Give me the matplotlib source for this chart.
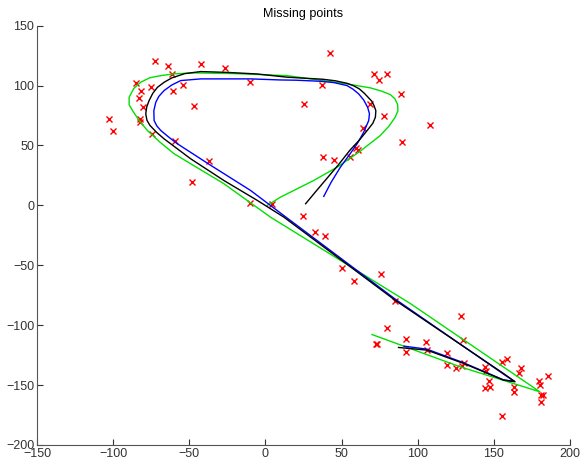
import matplotlib
matplotlib.use("Agg")
import matplotlib.pyplot as plt

plt.rcParams["font.family"] = ["Liberation Sans", "DejaVu Sans"]

# observed (noisy) points
pts_x = [-72.7, -64, -42.3, -26.6, -61.5, -84.9, -75.3, -53.9, -81.9, -60.4, -10.2, -83.2,
         -46.9, -80.3, -102.6, -82.5, -82.3, -100.2, -74.6, -59.4, -36.8, -48.4, -10, 4.4,
         42.2, 71.5, 79.8, 74.8, 37, 88.7, 25.6, 68.9, 78, 108, 64.1, 89.8, 59.7, 61,
         38.1, 45.1, 55.3, 24.8, 32.8, 38.9, 50.1, 58.2, 75.6, 85.1, 79.8,
         128.3, 72.3, 73, 92.3, 105.4, 129.6, 92.3, 105.8, 119.5, 130.3, 129, 119.3, 125,
         144.4, 144.9, 155.6, 158.9, 168, 166.5, 147, 147.5, 144.4, 163, 163.2, 179.4,
         180.2, 185.7, 180.9, 182.4, 181.1, 155.6]
pts_y = [120.6, 116.7, 117.8, 115, 109.7, 101.9, 98.6, 100.8, 95.3, 95.8, 103.1, 89.7,
         83.3, 81.9, 71.9, 71.9, 69.4, 61.7, 59.4, 53.9, 36.7, 19.4, 1.7, 1.1,
         126.9, 109.4, 109.4, 104.4, 100.8, 92.8, 85, 85, 74.4, 67.2, 64.4, 53, 48, 46.1,
         40.8, 38.3, 40.8, -8.6, -22.5, -25.6, -52.2, -62.8, -56.9, -80, -102.2,
         -92.2, -115.3, -116, -111.9, -114.2, -112.5, -122.2, -121.1, -122.8, -131.9, -134.2,
         -133.3, -135.8, -134.7, -138.1, -131.1, -128.1, -135.6, -139.7, -146.7, -151.9,
         -152.8, -151.7, -155.6, -146.7, -150, -142.3, -158, -158.3, -164.2, -175.6]

# green fit
green_x = [1.2, 9.9, 31.7, 47.1, 62, 75.4, 81, 85.2, 87, 86.8, 85, 82, 76, 68.9, 53.6,
           14.3, -20, -46.9, -60, -68.8, -76, -81.9, -86.5, -89.5, -89.5, -87.3, -83,
           -77.5, -69, -60, -27.3, 3.3, 95.1, 180.2, 127.8, 70]
green_y = [0, 6.9, 20.8, 31.9, 45, 58.3, 66, 73.6, 79, 84.2, 89, 92.5, 95.5, 98.1, 101.4,
           108.3, 110, 110.6, 109.8, 108.3, 106.5, 102.8, 97.5, 90.3, 84, 79.2, 71,
           62.5, 52.5, 43.1, 18.1, -9.8, -81.9, -155.6, -134.7, -107.8]

# black fit
black_x = [26.4, 33, 40, 48, 55.3, 62, 67.1, 70.5, 72.2, 72.5, 71.3, 69.8, 67.8, 65, 61.7,
           58, 53.6, 46, 37.6, 14.3, -5.4, -25, -42.5, -53, -61.5, -66.5, -70.9, -74,
           -76.4, -78, -78.6, -77.8, -75.8, -71.5, -66.6, -49.1, -27.3, -5.4, 12.1, 85.2,
           156.3, 163.9, 156.3, 130.1, 106, 87.4]
black_y = [1.4, 11.5, 22, 34, 45.8, 55, 63, 68.5, 73.6, 79, 83.3, 87, 89.7, 93.5, 97.2,
           99.8, 101.9, 104, 105.3, 107, 109.7, 111, 111.7, 110, 106.4, 102.8, 98.6, 93.5,
           87.5, 82, 76.4, 71, 66.7, 61, 55.6, 38.9, 20.8, 4.2, -9.8, -79.2,
           -140.3, -147.2, -145.8, -131.9, -120.8, -118.6]

# blue fit
blue_x = [38.3, 43, 49.2, 55, 60.2, 64.5, 67.8, 68.3, 67.1, 64.5, 61.2, 57.5, 53.6, 45,
          36.1, 20, 9.9, -9.8, -42.5, -55.6, -61.5, -66.6, -70, -72, -73.3, -73.1, -71.3,
          -68.7, -63.5, -57.8, -36, -9.8, 12.1, 85.5, 156.3, 163.5, 156, 130, 106, 91]
blue_y = [7.5, 19, 31.9, 42, 51.4, 61, 70.8, 76.5, 81.9, 88, 93.1, 97, 100, 102.5,
          103.6, 104.5, 104.7, 105.6, 105.6, 104.2, 100.5, 95.8, 91, 86.1, 79, 70.8, 66.3,
          62.5, 57, 51.4, 33.5, 12.5, -8.5, -78.5, -140.8, -147, -145.5, -131.3,
          -120, -117.5]

fig = plt.figure(figsize=(5.81, 4.63), dpi=100)
ax = fig.add_axes([0.0637, 0.0389, 0.9174, 0.9056])

ax.plot(pts_x, pts_y, "x", color="red", ms=5, mew=1)
ax.plot(green_x, green_y, color="#00e000", lw=1)
ax.plot(blue_x, blue_y, color="blue", lw=1)
ax.plot(black_x, black_y, color="black", lw=1)

ax.set_xlim(-150, 200)
ax.set_ylim(-200, 150)
ax.set_xticks(range(-150, 201, 50))
ax.set_yticks(range(-200, 151, 50))
ax.set_xticklabels([str(v).replace("-", "\u2212") for v in range(-150, 201, 50)])
ax.set_yticklabels([str(v).replace("-", "\u2212") for v in range(-200, 151, 50)])
ax.tick_params(direction="in", length=4, labelsize=9, colors="#333333", pad=2)
ax.spines["top"].set_visible(False)
ax.spines["right"].set_visible(False)
for s in ("left", "bottom"):
    ax.spines[s].set_color("#555555")
ax.set_title("Missing points", fontsize=9, pad=6)

plt.savefig("out.png", dpi=100)
